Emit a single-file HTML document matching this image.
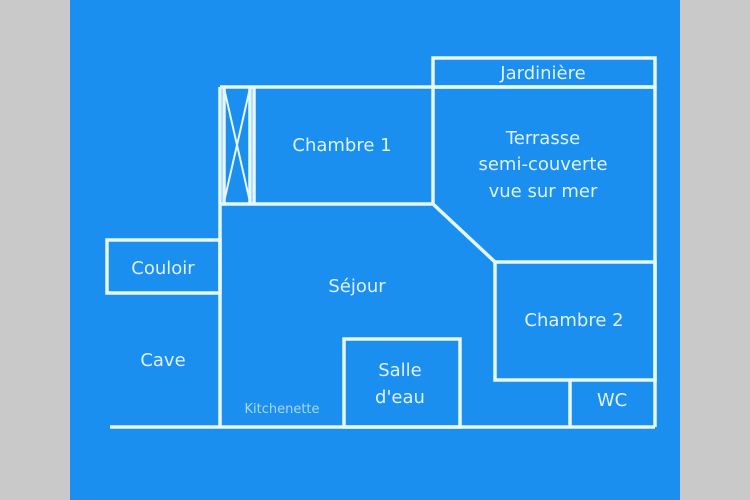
<!DOCTYPE html>
<html><head><style>
html,body{margin:0;padding:0;width:750px;height:500px;overflow:hidden;background:#c9c9c9}
#b{position:absolute;left:70px;top:0;width:610px;height:500px;background:#1b8ff0}
svg{position:absolute;left:0;top:0}
text{font-family:"DejaVu Sans","Liberation Sans",sans-serif;fill:#dff2ff;font-size:18px;text-anchor:middle}
</style></head><body>
<div id="b"></div>
<svg width="750" height="500" viewBox="0 0 750 500">
<g stroke="#e6f7ff" stroke-width="3.5" fill="none">
<rect x="433" y="58" width="222" height="29"/>
<line x1="220" y1="87" x2="655" y2="87"/>
<line x1="220" y1="87" x2="220" y2="427"/>
<line x1="224" y1="87" x2="224" y2="203"/>
<line x1="250" y1="87" x2="250" y2="203"/>
<line x1="254" y1="87" x2="254" y2="203"/>
<line x1="224" y1="88" x2="250" y2="202" stroke-width="2"/>
<line x1="250" y1="88" x2="224" y2="202" stroke-width="2"/>
<line x1="220" y1="204" x2="433" y2="204"/>
<line x1="433" y1="87" x2="433" y2="204"/>
<line x1="433" y1="204" x2="495" y2="262"/>
<line x1="655" y1="87" x2="655" y2="427"/>
<rect x="495" y="262" width="160" height="118"/>
<line x1="570" y1="380" x2="570" y2="427"/>
<rect x="107" y="240" width="113" height="53"/>
<rect x="344" y="339" width="116" height="88"/>
<line x1="110" y1="427" x2="655" y2="427"/>
</g>
<text x="342" y="151">Chambre 1</text>
<text x="543" y="79">Jardinière</text>
<text x="543" y="144">Terrasse</text>
<text x="543" y="170">semi-couverte</text>
<text x="543" y="197">vue sur mer</text>
<text x="357" y="292">Séjour</text>
<text x="163" y="274">Couloir</text>
<text x="163" y="366">Cave</text>
<text x="400" y="376">Salle</text>
<text x="400" y="403">d'eau</text>
<text x="574" y="326">Chambre 2</text>
<text x="612" y="406">WC</text>
<text x="282" y="413" style="font-size:13px;fill:#a8d6f8">Kitchenette</text>
</svg>
</body></html>
